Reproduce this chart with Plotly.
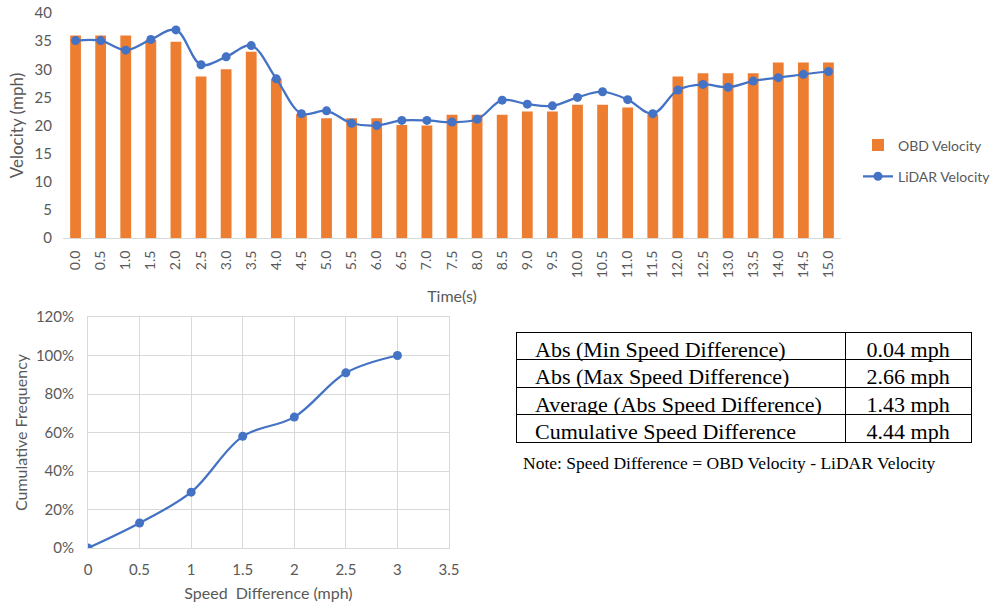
import plotly.graph_objects as go

# ---------------- data ----------------
time_labels = ["0.0","0.5","1.0","1.5","2.0","2.5","3.0","3.5","4.0","4.5","5.0",
               "5.5","6.0","6.5","7.0","7.5","8.0","8.5","9.0","9.5","10.0",
               "10.5","11.0","11.5","12.0","12.5","13.0","13.5","14.0","14.5","15.0"]
obd_velocity = [36.0, 36.0, 36.0, 35.2, 34.9, 28.7, 30.0, 33.1, 28.3, 22.0, 21.3,
                21.3, 21.3, 20.1, 20.0, 21.9, 21.9, 21.9, 22.5, 22.5, 23.7,
                23.7, 23.2, 22.0, 28.7, 29.3, 29.3, 29.3, 31.2, 31.2, 31.2]
lidar_velocity = [35.1, 35.1, 33.4, 35.3, 37.0, 30.8, 32.2, 34.2, 28.3, 22.1, 22.6,
                  20.4, 20.0, 20.9, 20.9, 20.6, 21.1, 24.5, 23.8, 23.5, 25.0,
                  26.0, 24.6, 22.1, 26.3, 27.3, 26.8, 27.9, 28.5, 29.1, 29.6]

speed_diff = [0, 0.5, 1, 1.5, 2, 2.5, 3]
cum_freq = [0.0, 0.13, 0.29, 0.58, 0.68, 0.91, 1.0]

table_labels = ["Abs (Min Speed Difference)", "Abs (Max Speed Difference)",
                "Average (Abs Speed Difference)", "Cumulative Speed Difference"]
table_values = ["0.04 mph", "2.66 mph", "1.43 mph", "4.44 mph"]
note_text = "Note: Speed Difference = OBD Velocity - LiDAR Velocity"

# ---------------- style ----------------
ORANGE = "#ED7D31"
BLUE = "#4472C4"
GREY_TXT = "#595959"
GRID = "#d9d9d9"
SANS = "Lato, 'Open Sans', sans-serif"
SERIF = "'Liberation Serif', 'DejaVu Serif', serif"
W, H = 997, 605

fig = go.Figure()

fig.add_trace(go.Bar(x=time_labels, y=obd_velocity, name="OBD Velocity",
                     marker=dict(color=ORANGE, line=dict(width=0)), legendgroup="a",
                     xaxis="x", yaxis="y"))
fig.add_trace(go.Scatter(x=time_labels, y=lidar_velocity, name="LiDAR Velocity",
                         mode="lines+markers", line=dict(color=BLUE, width=2.25, shape="spline"),
                         marker=dict(color=BLUE, size=9), legendgroup="b",
                         xaxis="x", yaxis="y"))

fig.add_trace(go.Scatter(x=speed_diff, y=cum_freq, mode="lines+markers",
                         line=dict(color=BLUE, width=2.25, shape="spline"),
                         marker=dict(color=BLUE, size=9), showlegend=False,
                         xaxis="x2", yaxis="y2"))

# table (first row rendered as header, styled identically to the other rows)
col1 = ["\u00a0\u00a0" + s for s in table_labels]
TFONT = dict(family=SERIF, size=22, color="black")
fig.add_trace(go.Table(
    domain=dict(x=[516 / W, 972 / W], y=[1 - 443 / H, 1 - 332 / H]),
    columnwidth=[330, 126],
    header=dict(values=[col1[0], table_values[0]],
                align=["left", "center"], height=27.6, font=TFONT,
                line=dict(color="black", width=1), fill=dict(color="white")),
    cells=dict(values=[col1[1:], table_values[1:]],
               align=["left", "center"], height=27.6, font=TFONT,
               line=dict(color="black", width=1), fill=dict(color="white")),
))

fig.update_layout(
    width=W, height=H,
    margin=dict(l=0, r=0, t=0, b=0),
    paper_bgcolor="white", plot_bgcolor="white",
    font=dict(family=SANS, color=GREY_TXT, size=14),
    bargap=0.57,
    showlegend=True,
    legend=dict(x=858 / W, y=1 - 161 / H, xanchor="left", yanchor="middle",
                font=dict(family=SANS, size=14, color=GREY_TXT),
                bgcolor="rgba(0,0,0,0)", tracegroupgap=10),
    xaxis=dict(domain=[63 / W, 841 / W], type="category", anchor="y", automargin=False,
               range=[-0.5, len(time_labels) - 0.5],
               tickangle=-90, showline=True, linecolor=GRID, linewidth=1,
               ticks="", showgrid=False, tickfont=dict(size=14, color=GREY_TXT),
               ticklabelstandoff=6,
               title=dict(text="Time(s)", font=dict(size=16, color=GREY_TXT), standoff=13)),
    yaxis=dict(domain=[1 - 238 / H, 1 - 13 / H], range=[0, 40], dtick=5, anchor="x",
               automargin=False,
               showgrid=False, zeroline=False, showline=False, ticks="",
               tickfont=dict(size=15, color=GREY_TXT), ticklabelstandoff=10,
               title=dict(text="Velocity (mph)", font=dict(size=17, color=GREY_TXT), standoff=6)),
    xaxis2=dict(domain=[88 / W, 449 / W], range=[0, 3.5], dtick=0.5, anchor="y2",
                automargin=False,
                showgrid=True, gridcolor=GRID, zeroline=False,
                showline=True, linecolor=GRID, mirror=True, ticks="",
                tickfont=dict(size=15, color=GREY_TXT), ticklabelstandoff=8,
                title=dict(text="Speed  Difference (mph)", font=dict(size=16, color=GREY_TXT), standoff=10)),
    yaxis2=dict(domain=[1 - 548 / H, 1 - 317 / H], range=[0, 1.2], dtick=0.2, anchor="x2",
                automargin=False,
                tickformat=".0%", showgrid=True, gridcolor=GRID, zeroline=False,
                showline=True, linecolor=GRID, mirror=True, ticks="",
                tickfont=dict(size=15, color=GREY_TXT), ticklabelstandoff=10,
                title=dict(text="Cumulative Frequency", font=dict(size=16, color=GREY_TXT), standoff=4)),
    annotations=[dict(text=note_text, xref="paper", yref="paper",
                      x=521 / W, y=1 - 463 / H, xanchor="left", yanchor="middle",
                      showarrow=False, font=dict(family=SERIF, size=17.5, color="black"))],
)

fig.write_html("out.html", config={"displayModeBar": False},
               post_script="document.body.style.margin='0';")
